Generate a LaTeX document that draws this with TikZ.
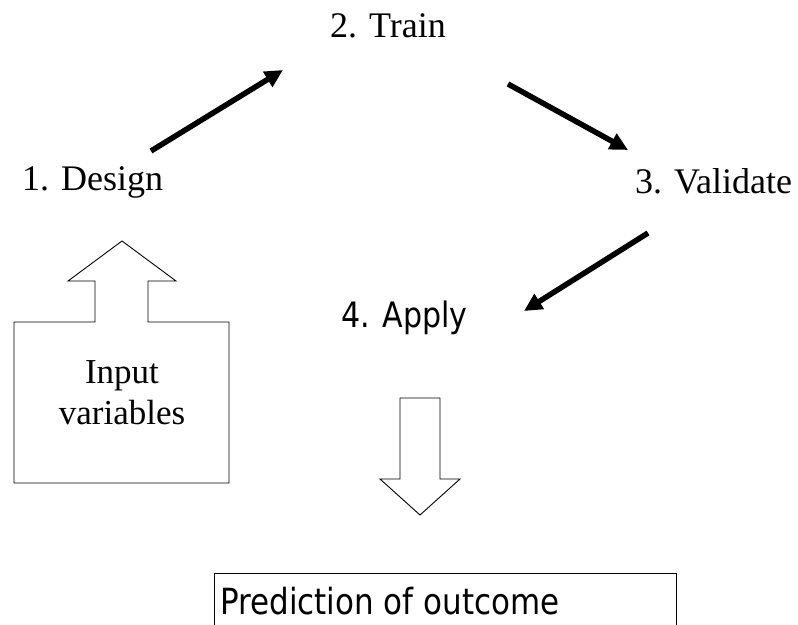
\documentclass[tikz,border=0pt]{standalone}
\usepackage{fontspec}
\setmainfont{Liberation Serif}
\newfontfamily\verdfont[FakeStretch=0.86]{DejaVu Sans}
\usetikzlibrary{arrows.meta}
\tikzset{steplabel/.style={inner sep=0pt, font=\fontsize{36}{41}\selectfont}}
\tikzset{flow/.style={-{Triangle[length=18pt,width=17pt]}, line width=5.5pt}}
\tikzset{blockarrow/.style={draw, line width=0.9pt, line join=miter}}

\begin{document}
\begin{tikzpicture}[x=1pt, y=-1pt]
    \useasboundingbox (0,0) rectangle (798,624);

    \node[steplabel, anchor=base west] (train)    at (330, 37)  {2. Train};
    \node[steplabel, anchor=base west] (design)   at (22, 190)  {1. Design};
    \node[steplabel, anchor=base west] (validate) at (635, 193) {3. Validate};
    \node[anchor=base west, inner sep=0pt, font=\verdfont\fontsize{35}{40}\selectfont] (apply) at (341, 327) {4. Apply};

    % input block with arrow towards design
    \draw[blockarrow] (14,322) -- (95,322) -- (95,281) -- (68,281) -- (122,241)
        -- (176,281) -- (148,281) -- (148,322) -- (229,322) -- (229,483)
        -- (14,483) -- cycle;
    \node[steplabel, align=center, font=\fontsize{35}{41}\selectfont] (input) at (122, 393) {Input\\variables};

    % down arrow from apply
    \draw[blockarrow] (400,398) -- (440,398) -- (440,479) -- (460,479) -- (420,515)
        -- (380,479) -- (400,479) -- cycle;

    \node[draw, line width=0.9pt, anchor=north west, minimum width=462, minimum height=70,
          inner sep=0pt] (predict) at (214, 573) {};
    \node[anchor=base west, inner sep=0pt, font=\verdfont\fontsize{36}{40}\selectfont] (predict-text) at (220, 614) {Prediction of outcome};

    \coordinate (d2t-a) at (151, 151);
    \coordinate (d2t-b) at (283, 70);
    \coordinate (t2v-a) at (508, 84);
    \coordinate (t2v-b) at (628, 150);
    \coordinate (v2a-a) at (648, 233);
    \coordinate (v2a-b) at (524, 311);

    \draw[flow] (d2t-a) -- (d2t-b);
    \draw[flow] (t2v-a) -- (t2v-b);
    \draw[flow] (v2a-a) -- (v2a-b);
\end{tikzpicture}
\end{document}
